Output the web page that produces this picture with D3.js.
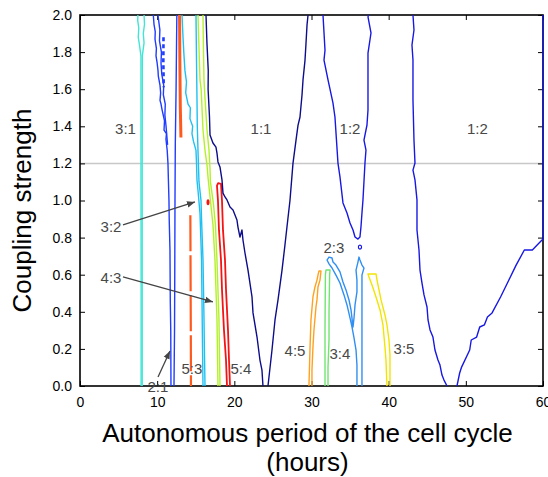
<!DOCTYPE html>
<html>
<head>
<meta charset="utf-8">
<script src="https://cdn.jsdelivr.net/npm/d3@7/dist/d3.min.js"></script>
<style>
  body { margin: 0; background: #fff; }
  text { font-family: "Liberation Sans", Arial, sans-serif; }
</style>
</head>
<body>
<div id="my_dataviz"></div>
<script>

// axis ticks
var xTicks = [0, 10, 20, 30, 40, 50, 60];
var yTicks = [0, 0.2, 0.4, 0.6, 0.8, 1.0, 1.2, 1.4, 1.6, 1.8, 2.0];
var refCoupling = 1.2;

// tongue boundaries, [autonomous period (h), coupling strength]
var t31Left  = [[7.92,0],[7.92,0.6],[7.9,1.2],[7.9,1.78],[7.7,1.84],[7.55,1.88],[7.62,1.93],[7.48,1.97],[7.5,2.0]];
var t31Right = [[8.06,0],[8.06,0.6],[8.06,1.2],[8.08,1.78],[8.3,1.85],[8.2,1.9],[8.36,1.95],[8.3,2.0]];

var t21Left  = [[11.79,0],[11.76,0.3],[11.7,0.46],[11.66,0.73],[11.56,0.9],[11.53,1.0],[11.45,1.12],[11.4,1.2],
                [11.3,1.27],[11.14,1.33],[11.2,1.36],[10.89,1.38],[10.95,1.43],[10.63,1.49],[10.5,1.52],[10.37,1.54],
                [10.45,1.58],[10.37,1.62],[10.15,1.67],[10.11,1.7],[10.0,1.74],[9.85,1.78],[9.9,1.82],[9.72,1.87],
                [9.75,1.91],[9.59,1.95],[9.5,2.0]];
var t21Inner = [[11.35,1.3],[11.15,1.4],[11.0,1.46],[11.05,1.52],[10.8,1.57],[10.85,1.62],[10.6,1.68],[10.5,1.74],
                [10.55,1.8],[10.3,1.86],[10.35,1.92],[10.1,2.0]];
var t21Right = [[12.18,0],[12.25,0.3],[12.28,0.6],[12.31,1.0],[12.35,1.3],[12.45,1.6],[12.5,1.8],[12.55,2.0]];
var t21Dash  = [[10.82,1.88],[10.8,1.75],[10.85,1.61]];

var t53Upper = [[12.9,2.0],[12.95,1.7],[13.0,1.5],[13.08,1.34]];
var t53Lower = [[14.3,0.92],[14.33,0.6],[14.36,0.3],[14.38,0]];
var t54Dot   = [[16.59,0.99]];

var t32Left  = [[15.94,0],[15.88,0.2],[15.81,0.46],[15.75,0.68],[15.55,0.93],[15.3,1.05],[15.16,1.11],[15.1,1.2],
                [15.03,1.27],[14.7,1.32],[14.51,1.36],[14.6,1.4],[14.25,1.44],[14.3,1.5],[14.0,1.52],[13.7,1.58],
                [13.8,1.64],[13.6,1.7],[13.45,1.8],[13.35,1.88],[13.22,2.0]];
var t32Right = [[16.2,0],[16.12,0.2],[16.07,0.36],[15.94,0.68],[15.75,0.9],[15.68,1.0],[15.42,1.1],[15.29,1.27],
                [15.2,1.4],[15.16,1.55],[15.1,1.75],[15.03,2.0]];

var t43Left  = [[17.88,0],[17.75,0.36],[17.49,0.68],[17.23,0.87],[16.9,1.0],[16.6,1.12],[16.46,1.19],[16.2,1.27],
                [15.94,1.38],[15.7,1.6],[15.55,1.65],[15.4,1.85],[15.29,2.0]];
var t43Right = [[18.14,0],[18.01,0.36],[17.75,0.68],[17.55,0.87],[17.3,0.98],[16.9,1.1],[16.85,1.17],[16.72,1.27],
                [16.46,1.38],[16.2,1.55],[16.07,1.65],[16.0,1.8],[15.94,2.0]];

var t54 = [[19.05,0],[18.92,0.14],[18.66,0.3],[18.4,0.52],[18.27,0.68],[18.01,0.84],[17.88,1.0],[17.75,1.08],
           [17.9,1.094],[18.27,1.09],[18.4,1.0],[18.53,0.84],[18.79,0.68],[18.92,0.52],[19.18,0.3],[19.31,0.14],[19.44,0]];

var t11Left  = [[23.71,0],[23.58,0.086],[23.32,0.14],[22.94,0.264],[22.42,0.394],[22.29,0.48],[21.77,0.625],
                [21.38,0.717],[21.12,0.787],[20.99,0.841],[20.73,0.803],[20.47,0.857],[20.34,0.895],[19.83,0.949],
                [19.44,0.965],[19.05,1.003],[18.79,1.019],[18.53,1.04],[18.4,1.111],[18.14,1.181],[17.88,1.208],
                [17.75,1.256],[17.62,1.288],[17.23,1.31],[16.85,1.353],[16.78,1.45],[16.6,1.6],[16.62,1.7],
                [16.45,1.85],[16.33,2.0]];
var t11Right = [[24.36,0],[24.88,0.194],[25.27,0.356],[25.66,0.464],[26.18,0.625],[26.56,0.76],[26.82,0.857],
                [27.21,1.0],[27.6,1.2],[27.99,1.324],[28.25,1.405],[28.51,1.45],[28.77,1.569],[28.9,1.65],
                [29.16,1.757],[29.29,1.849],[29.42,1.946],[29.55,2.0]];

var t12A = [[31.49,2.0],[31.75,1.81],[31.62,1.757],[32.14,1.65],[32.78,1.526],[33.04,1.45],[33.43,1.202],
            [33.69,1.127],[34.08,0.987],[34.6,0.933],[34.99,0.879],[35.38,0.841],[35.64,0.803],[36.02,0.792],
            [36.28,0.803],[36.41,0.857],[36.54,0.933],[36.67,1.003],[36.93,1.202],[37.06,1.272],[36.8,1.326],
            [37.19,1.407],[37.32,1.488],[37.32,1.795],[37.71,1.903],[37.32,1.99],[37.4,2.0]];
var t12Dot = [[36.28,0.749]];
var t12B = [[43.15,2.0],[43.28,1.919],[43.02,1.838],[43.15,1.757],[43.15,1.542],[43.28,1.326],[43.41,1.202],
            [43.15,1.164],[43.41,1.111],[43.67,1.003],[43.67,0.841],[43.8,0.787],[43.93,0.733],[44.06,0.625],
            [44.32,0.555],[44.58,0.491],[44.97,0.426],[45.1,0.356],[45.36,0.302],[45.74,0.264],[46.0,0.194],
            [46.39,0.14],[46.65,0.113],[46.91,0.059],[47.17,0.032],[47.56,0]];
var t12C = [[48.85,0],[49.2,0.07],[49.45,0.102],[50.5,0.194],[50.7,0.248],[51.4,0.264],[51.8,0.318],[52.4,0.329],
            [52.8,0.372],[53.4,0.394],[54.5,0.48],[55.5,0.565],[56.5,0.65],[57.58,0.733],[58.62,0.733],
            [59.87,0.787],[60,0.79],[60,2.0]];

var t23 = [[35.89,0],[35.89,0.113],[35.77,0.194],[35.51,0.259],[35.25,0.318],[34.99,0.367],[34.6,0.437],
           [34.21,0.491],[33.69,0.555],[33.17,0.598],[32.66,0.636],[32.27,0.658],[32.01,0.679],[32.27,0.695],
           [32.66,0.69],[32.79,0.668],[33.17,0.652],[33.69,0.615],[34.08,0.561],[34.47,0.518],[34.86,0.464],
           [35.12,0.41],[35.38,0.318],[35.51,0.367],[35.64,0.437],[35.89,0.507],[35.89,0.571],[35.77,0.625],
           [36.02,0.668],[36.15,0.695],[36.28,0.679],[36.54,0.652],[36.8,0.636],[36.54,0.598],[36.54,0.518],
           [36.54,0.302],[36.54,0]];

var t45 = [[29.67,0],[29.8,0.194],[29.93,0.356],[30.19,0.48],[30.45,0.534],[30.71,0.571],[30.84,0.598],
           [30.97,0.62],[31.23,0.62],[31.1,0.571],[30.84,0.534],[30.71,0.464],[30.58,0.426],[30.32,0.302],
           [30.19,0.21],[30.06,0.086],[30.06,0]];
var t34 = [[31.75,0],[31.75,0.3],[31.8,0.6],[31.88,0.625],[32.4,0.625],[32.35,0.6],[32.27,0.4],[32.27,0.25],
           [32.14,0.1],[32.14,0]];
var t35 = [[39.78,0],[39.65,0.14],[39.52,0.21],[39.26,0.329],[38.88,0.41],[38.36,0.48],[37.84,0.544],
           [37.45,0.588],[37.32,0.604],[38.36,0.604],[38.49,0.571],[38.75,0.518],[39.01,0.464],[39.52,0.383],
           [39.78,0.329],[40.04,0.248],[40.17,0.167],[40.17,0]];

// tongue labels
var labelText     = ["3:1", "1:1", "1:2", "1:2", "3:2", "4:3", "2:1", "5:3", "5:4", "4:5", "3:4", "2:3", "3:5"];
var labelPeriod   = [5.9, 23.46, 34.99, 51.5, 4.02, 4.02, 10.1, 14.51, 20.86, 27.86, 33.69, 32.91, 41.99];
var labelCoupling = [1.39, 1.39, 1.39, 1.39, 0.857, 0.582, -0.005, 0.092, 0.092, 0.189, 0.173, 0.744, 0.2];

// arrows from labels to thin tongues
var arrowFrom = [[5.57, 0.868], [5.57, 0.588], [10.11, 0.049]];
var arrowTo   = [[14.9, 0.992], [17.23, 0.453], [11.66, 0.189]];


var colors = {
  c31: "#3ee6d6", c21: "#1f3cff", c53: "#ff5a1e", c32: "#1ec0f2", c43: "#b4f02a",
  c54: "#f41414", c11: "#0c0c8c", c12: "#1818e4", c23: "#2f8ff2", c45: "#ffa11e",
  c34: "#70e470", c35: "#f2e400"
};

var curves = [
  {d: t31Left, c: colors.c31}, {d: t31Right, c: colors.c31},
  {d: t21Left, c: colors.c21}, {d: t21Inner, c: colors.c21}, {d: t21Right, c: colors.c21},
  {d: t21Dash, c: colors.c21, w: 2.6, dash: "4,3"},
  {d: t53Upper, c: colors.c53, w: 3}, {d: t53Lower, c: colors.c53, w: 2.2, dash: "36,4"},
  {d: t32Left, c: colors.c32}, {d: t32Right, c: colors.c32},
  {d: t43Left, c: colors.c43}, {d: t43Right, c: colors.c43},
  {d: t54, c: colors.c54, w: 1.8},
  {d: t11Left, c: colors.c11}, {d: t11Right, c: colors.c11},
  {d: t12A, c: colors.c12}, {d: t12B, c: colors.c12}, {d: t12C, c: colors.c12},
  {d: t23, c: colors.c23}, {d: t45, c: colors.c45}, {d: t34, c: colors.c34}, {d: t35, c: colors.c35}
];

// set the dimensions and margins of the graph
var margin = {top: 15, right: 5, bottom: 91, left: 80},
    width = 548 - margin.left - margin.right,
    height = 477 - margin.top - margin.bottom;

var root = d3.select("#my_dataviz")
  .append("svg")
    .attr("width", 548)
    .attr("height", 477);

var svg = root.append("g")
    .attr("transform", "translate(" + margin.left + "," + margin.top + ")");

var x = d3.scaleLinear().domain([0, 60]).range([0, width]);
var y = d3.scaleLinear().domain([0, 2]).range([height, 0]);

svg.append("defs").append("clipPath")
    .attr("id", "plotclip")
  .append("rect")
    .attr("x", -1.5).attr("y", -1.5)
    .attr("width", width + 3).attr("height", height + 3);

svg.select("defs").append("marker")
    .attr("id", "arrowhead")
    .attr("viewBox", "0 0 10 10")
    .attr("refX", 10).attr("refY", 5)
    .attr("markerWidth", 8).attr("markerHeight", 8)
    .attr("markerUnits", "userSpaceOnUse")
    .attr("orient", "auto")
  .append("path")
    .attr("d", "M0,1 L10,5 L0,9 Z")
    .attr("fill", "#444");

// reference line
svg.append("line")
    .attr("x1", x(0)).attr("x2", x(60))
    .attr("y1", y(refCoupling)).attr("y2", y(refCoupling))
    .attr("stroke", "#c8c8c8")
    .attr("stroke-width", 1.5);

// axes, ticks pointing inward
function styleAxis(g) {
  g.select(".domain").remove();
  g.selectAll(".tick line").attr("stroke", "#000").attr("stroke-width", 1);
  g.selectAll("text").attr("fill", "#000").style("font-size", "14px");
}

svg.append("g")
    .attr("transform", "translate(0," + height + ")")
    .call(d3.axisBottom(x).tickValues(xTicks).tickSizeInner(-5).tickSizeOuter(0).tickPadding(11).tickFormat(d3.format("d")))
    .call(styleAxis);
svg.append("g")
    .call(d3.axisLeft(y).tickValues(yTicks).tickSizeInner(-5).tickSizeOuter(0).tickPadding(8).tickFormat(d3.format(".1f")))
    .call(styleAxis);
svg.append("g")
    .call(d3.axisTop(x).tickValues(xTicks).tickSizeInner(-5).tickSizeOuter(0).tickFormat(""))
    .call(styleAxis);
svg.append("g")
    .attr("transform", "translate(" + width + ",0)")
    .call(d3.axisRight(y).tickValues(yTicks).tickSizeInner(-5).tickSizeOuter(0).tickFormat(""))
    .call(styleAxis);

svg.append("rect")
    .attr("width", width).attr("height", height)
    .attr("fill", "none")
    .attr("stroke", "#000")
    .attr("stroke-width", 1.6);

// tongue boundaries
var line = d3.line()
    .x(function(d) { return x(d[0]); })
    .y(function(d) { return y(d[1]); });

var plot = svg.append("g").attr("clip-path", "url(#plotclip)");

plot.selectAll("path.tongue")
  .data(curves)
  .enter()
  .append("path")
    .attr("class", "tongue")
    .attr("d", function(d) { return line(d.d); })
    .attr("fill", "none")
    .attr("stroke", function(d) { return d.c; })
    .attr("stroke-width", function(d) { return d.w || 1.4; })
    .attr("stroke-dasharray", function(d) { return d.dash || null; })
    .attr("stroke-linejoin", "round");

plot.append("ellipse")
    .attr("cx", x(t54Dot[0][0])).attr("cy", y(t54Dot[0][1]))
    .attr("rx", 1.5).attr("ry", 3)
    .attr("fill", colors.c54);
plot.append("ellipse")
    .attr("cx", x(t12Dot[0][0])).attr("cy", y(t12Dot[0][1]))
    .attr("rx", 1.6).attr("ry", 2)
    .attr("fill", "none")
    .attr("stroke", colors.c12)
    .attr("stroke-width", 1.2);

// arrows
svg.selectAll("line.arrow")
  .data(arrowFrom)
  .enter()
  .append("line")
    .attr("class", "arrow")
    .attr("x1", function(d) { return x(d[0]); })
    .attr("y1", function(d) { return y(d[1]); })
    .attr("x2", function(d, i) { return x(arrowTo[i][0]); })
    .attr("y2", function(d, i) { return y(arrowTo[i][1]); })
    .attr("stroke", "#444")
    .attr("stroke-width", 1.3)
    .attr("marker-end", "url(#arrowhead)");

// labels
svg.selectAll("text.tongue-label")
  .data(labelText)
  .enter()
  .append("text")
    .attr("class", "tongue-label")
    .attr("x", function(d, i) { return x(labelPeriod[i]); })
    .attr("y", function(d, i) { return y(labelCoupling[i]); })
    .attr("dy", "0.36em")
    .attr("text-anchor", "middle")
    .attr("fill", "#484848")
    .style("font-size", "15px")
    .text(function(d) { return d; });

// axis titles
root.append("text")
    .attr("x", margin.left + width / 2 - 4)
    .attr("y", 442)
    .attr("text-anchor", "middle")
    .style("font-size", "26px")
    .text("Autonomous period of the cell cycle");
root.append("text")
    .attr("x", margin.left + width / 2 - 4)
    .attr("y", 471)
    .attr("text-anchor", "middle")
    .style("font-size", "26px")
    .text("(hours)");
root.append("text")
    .attr("transform", "translate(31," + (margin.top + height / 2 + 10) + ") rotate(-90)")
    .attr("text-anchor", "middle")
    .style("font-size", "26px")
    .text("Coupling strength");

</script>
</body>
</html>
